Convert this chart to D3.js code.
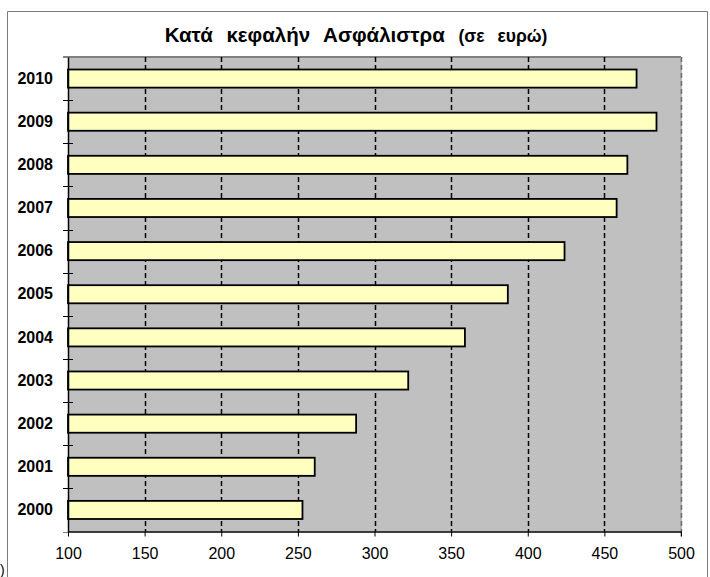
<!DOCTYPE html>
<html>
<head>
<meta charset="utf-8">
<script src="https://cdn.jsdelivr.net/npm/d3@7"></script>
<style>
  html, body { margin: 0; padding: 0; background: #fff; }
  svg { display: block; font-family: "Liberation Sans", Arial, sans-serif; }
</style>
</head>
<body>
<script>
// ---- data ----
const years = ["2000", "2001", "2002", "2003", "2004", "2005", "2006", "2007", "2008", "2009", "2010"];
const values = [253, 261, 288, 322, 359, 387, 424, 458, 465, 484, 471];
const xTicks = [100, 150, 200, 250, 300, 350, 400, 450, 500];
const titleMain = "Κατά κεφαλήν Ασφάλιστρα";
const titleSub = "(σε ευρώ)";

const data = years.map((y, i) => ({ year: y, value: values[i] }));

const W = 710, H = 577;
const plot = { left: 68, right: 681, top: 57, bottom: 531.5 };

const svg = d3.select("body").append("svg")
  .attr("width", W).attr("height", H);

// outer chart border (bottom is cut off by the picture)
svg.append("path")
  .attr("d", `M7.5,${H + 2} V11.5 H707.5 V${H + 2}`)
  .attr("fill", "none").attr("stroke", "#7a7a7a").attr("stroke-width", 1);

// cut-off fragment at bottom-left of the original picture
svg.append("text").attr("x", 0).attr("y", 575)
  .attr("font-size", 14).attr("fill", "#000").text(")");

const x = d3.scaleLinear().domain([100, 500]).range([plot.left, plot.right]);
const y = d3.scaleBand()
  .domain(years.slice().reverse())
  .range([plot.top, plot.bottom])
  .paddingInner(0.58).paddingOuter(0.29);

// plot background
svg.append("rect")
  .attr("x", plot.left).attr("y", plot.top)
  .attr("width", plot.right - plot.left).attr("height", plot.bottom - plot.top)
  .attr("fill", "#c0c0c0");

// top border of plot area
svg.append("line")
  .attr("x1", plot.left - 5).attr("x2", plot.right)
  .attr("y1", plot.top).attr("y2", plot.top)
  .attr("stroke", "#808080").attr("stroke-width", 2);

// right border
svg.append("line")
  .attr("x1", plot.right).attr("x2", plot.right)
  .attr("y1", plot.top).attr("y2", plot.bottom + 5)
  .attr("stroke", "#a8a8a8").attr("stroke-width", 1.5);

// gridlines
svg.append("g").selectAll("line")
  .data(xTicks.filter(t => t !== 100))
  .join("line")
  .attr("x1", d => Math.round(x(d)) + 0.5).attr("x2", d => Math.round(x(d)) + 0.5)
  .attr("y1", plot.top).attr("y2", plot.bottom)
  .attr("stroke", d => d === 500 ? "#6e6e6e" : "#000")
  .attr("stroke-width", 1.5)
  .attr("stroke-dasharray", "5,3");

// bars
svg.append("g").selectAll("rect")
  .data(data)
  .join("rect")
  .attr("x", x(100))
  .attr("y", d => y(d.year))
  .attr("width", d => x(d.value) - x(100))
  .attr("height", y.bandwidth())
  .attr("fill", "#ffffc0")
  .attr("stroke", "#000")
  .attr("stroke-width", 1.8);

// bottom axis
const xAxis = svg.append("g")
  .attr("transform", `translate(0,${plot.bottom})`)
  .call(d3.axisBottom(x).tickValues(xTicks).tickSize(5).tickSizeOuter(0).tickPadding(11).tickFormat(d3.format("d")));
xAxis.select(".domain").attr("stroke", "#000").attr("stroke-width", 1.5);
xAxis.selectAll(".tick line").attr("stroke", "#000");
xAxis.selectAll("text").attr("font-size", 16).attr("fill", "#000")
  .attr("font-family", "\"Liberation Sans\", Arial, sans-serif");

// left axis
const yAxis = svg.append("g")
  .attr("transform", `translate(${plot.left},0)`)
  .call(d3.axisLeft(y).tickSize(0).tickSizeOuter(0).tickPadding(15));
yAxis.select(".domain").attr("stroke", "#000").attr("stroke-width", 1.5);
yAxis.selectAll("text").attr("font-size", 16).attr("font-weight", "bold").attr("fill", "#000")
  .attr("font-family", "\"Liberation Sans\", Arial, sans-serif");

// category boundary ticks
const step = y.step();
const boundaries = years.map(yr => y(yr) - y.paddingInner() * step / 2)
  .concat([y(years[0]) - y.paddingInner() * step / 2 + step]);
svg.append("g").selectAll("line")
  .data(boundaries)
  .join("line")
  .attr("x1", plot.left - 5).attr("x2", d => (d < plot.top + 2 || d > plot.bottom - 2) ? plot.left : plot.left + 5)
  .attr("y1", d => Math.round(d) + 0.5).attr("y2", d => Math.round(d) + 0.5)
  .attr("stroke", d => (d < plot.top + 2 || d > plot.bottom - 2) ? "#808080" : "#000")
  .attr("stroke-width", 1);

// title
const title = svg.append("text")
  .attr("x", 356).attr("y", 42)
  .attr("text-anchor", "middle")
  .attr("font-weight", "bold")
  .attr("fill", "#000")
  .style("word-spacing", "8px");
title.append("tspan").attr("font-size", 20.5).text(titleMain + " ");
title.append("tspan").attr("font-size", 17.5).text(titleSub);
</script>
</body>
</html>
